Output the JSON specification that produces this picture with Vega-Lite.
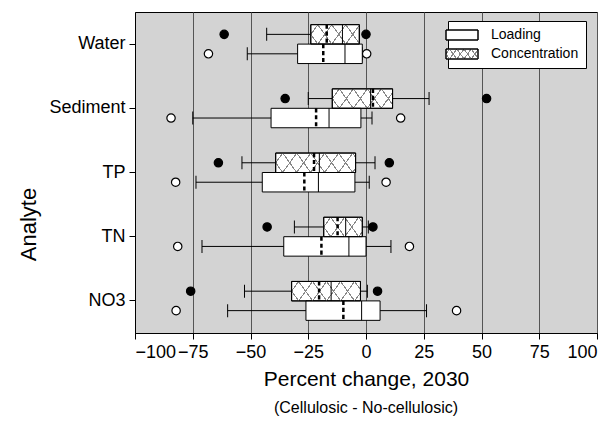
{
  "$schema": "https://vega.github.io/schema/vega-lite/v6.json",
  "width": 462,
  "height": 321,
  "autosize": "none",
  "padding": {"left": 135, "top": 12, "right": 17, "bottom": 89},
  "datasets": {
    "boxes": [
      {"analyte": "Water", "type": "Concentration", "lo": -43, "q1": -23.9, "med": -10.2, "mean": -17, "q3": -2.9, "hi": -2.9},
      {"analyte": "Water", "type": "Loading", "lo": -51.4, "q1": -29.6, "med": -9.1, "mean": -18.5, "q3": -1.6, "hi": -1.6},
      {"analyte": "Sediment", "type": "Concentration", "lo": -25, "q1": -14.6, "med": 2, "mean": 3, "q3": 11.5, "hi": 27.3},
      {"analyte": "Sediment", "type": "Loading", "lo": -75, "q1": -41.1, "med": -16, "mean": -21.6, "q3": -2.2, "hi": 2.6},
      {"analyte": "TP", "type": "Concentration", "lo": -53.7, "q1": -39.1, "med": -20.2, "mean": -22.5, "q3": -4.5, "hi": 3.9},
      {"analyte": "TP", "type": "Loading", "lo": -73.6, "q1": -44.9, "med": -20.6, "mean": -26.7, "q3": -4.8, "hi": 1.4},
      {"analyte": "TN", "type": "Concentration", "lo": -31, "q1": -18.3, "med": -8.8, "mean": -12.3, "q3": -1.6, "hi": 1},
      {"analyte": "TN", "type": "Loading", "lo": -71, "q1": -35.6, "med": -7.4, "mean": -19.3, "q3": 0, "hi": 10.8},
      {"analyte": "NO3", "type": "Concentration", "lo": -52.6, "q1": -32.2, "med": -15.1, "mean": -20.3, "q3": -2.4, "hi": 0.6},
      {"analyte": "NO3", "type": "Loading", "lo": -59.9, "q1": -26, "med": -1.9, "mean": -9.8, "q3": 6.1, "hi": 26.2}
    ],
    "outliers": [
      {"analyte": "Water", "type": "Concentration", "value": -61.4},
      {"analyte": "Water", "type": "Concentration", "value": 0},
      {"analyte": "Water", "type": "Loading", "value": -68.2},
      {"analyte": "Water", "type": "Loading", "value": 0.3},
      {"analyte": "Sediment", "type": "Concentration", "value": -35},
      {"analyte": "Sediment", "type": "Concentration", "value": 52.2},
      {"analyte": "Sediment", "type": "Loading", "value": -84.4},
      {"analyte": "Sediment", "type": "Loading", "value": 15},
      {"analyte": "TP", "type": "Concentration", "value": -63.9},
      {"analyte": "TP", "type": "Concentration", "value": 10.1},
      {"analyte": "TP", "type": "Loading", "value": -82.4},
      {"analyte": "TP", "type": "Loading", "value": 8.7},
      {"analyte": "TN", "type": "Concentration", "value": -42.8},
      {"analyte": "TN", "type": "Concentration", "value": 3},
      {"analyte": "TN", "type": "Loading", "value": -81.5},
      {"analyte": "TN", "type": "Loading", "value": 18.8},
      {"analyte": "NO3", "type": "Concentration", "value": -75.9},
      {"analyte": "NO3", "type": "Concentration", "value": 5},
      {"analyte": "NO3", "type": "Loading", "value": -82.2},
      {"analyte": "NO3", "type": "Loading", "value": 39.2}
    ]
  },
  "data": {"name": "boxes"},
  "title": {"text": "(Cellulosic - No-cellulosic)", "orient": "bottom", "frame": "group", "anchor": "middle", "fontSize": 16, "fontWeight": "normal", "font": "Liberation Sans", "color": "black", "offset": 11},
  "encoding": {
    "y": {"field": "analyte", "type": "nominal", "sort": ["Water", "Sediment", "TP", "TN", "NO3"], "scale": {"paddingInner": 0, "paddingOuter": 0}, "title": "Analyte",
      "axis": {"labelFontSize": 18, "labelPadding": 4, "tickSize": 6, "titleFontSize": 22, "titleAngle": 270, "titleX": -107, "titleY": 212, "titleBaseline": "middle", "titleAlign": "center"}},
    "yOffset": {"field": "type", "type": "nominal", "sort": ["Concentration", "Loading"], "scale": {"domain": ["Concentration", "Loading"], "paddingOuter": 0.65, "paddingInner": 0}}
  },
  "layer": [
    {
      "mark": {"type": "rule", "color": "black", "strokeWidth": 1},
      "encoding": {
        "x": {"field": "lo", "type": "quantitative", "scale": {"domain": [-100, 100], "nice": false, "zero": false}, "title": "Percent change, 2030",
          "axis": {"values": [-100, -75, -50, -25, 0, 25, 50, 75, 100], "grid": true, "gridColor": "#555", "gridWidth": 1, "gridOpacity": 1, "labelFontSize": 18, "labelPadding": 4, "tickSize": 6, "titleFontSize": 21, "titlePadding": 7}},
        "x2": {"field": "hi"}
      }
    },
    {
      "mark": {"type": "tick", "color": "black", "size": 13, "thickness": 1, "opacity": 1},
      "encoding": {"x": {"field": "lo", "type": "quantitative", "title": "Percent change, 2030"}}
    },
    {
      "mark": {"type": "tick", "color": "black", "size": 13, "thickness": 1, "opacity": 1},
      "encoding": {"x": {"field": "hi", "type": "quantitative", "title": "Percent change, 2030"}}
    },
    {
      "mark": {"type": "bar", "stroke": "black", "strokeWidth": 1, "opacity": 1},
      "encoding": {
        "x": {"field": "q1", "type": "quantitative", "title": "Percent change, 2030"},
        "x2": {"field": "q3"},
        "fill": {
          "field": "type", "type": "nominal",
          "scale": {"domain": ["Loading", "Concentration"], "range": ["white",
            {"expr": "{gradient:'linear',x1:0,y1:0,x2:1.1659,y2:0.2622,stops:[{offset:0,color:'#fff'},{offset:0.0753,color:'#fff'},{offset:0.0753,color:'#888'},{offset:0.1083,color:'#888'},{offset:0.1083,color:'#fff'},{offset:0.2588,color:'#fff'},{offset:0.2588,color:'#888'},{offset:0.2918,color:'#888'},{offset:0.2918,color:'#fff'},{offset:0.4424,color:'#fff'},{offset:0.4424,color:'#888'},{offset:0.4754,color:'#888'},{offset:0.4754,color:'#fff'},{offset:0.6259,color:'#fff'},{offset:0.6259,color:'#888'},{offset:0.659,color:'#888'},{offset:0.659,color:'#fff'},{offset:0.8095,color:'#fff'},{offset:0.8095,color:'#888'},{offset:0.8425,color:'#888'},{offset:0.8425,color:'#fff'},{offset:1,color:'#fff'}]}"}
          ]},
          "legend": {"title": null, "orient": "none", "legendX": 313, "legendY": 9, "zindex": 1, "symbolType": "M-3.2,-1H3.2V1H-3.2Z", "symbolSize": 100, "symbolStrokeColor": "black", "symbolStrokeWidth": 1, "labelFontSize": 14, "labelFont": "Liberation Sans", "labelColor": "black", "labelOffset": 22, "padding": 7, "rowPadding": 5, "fillColor": "white", "strokeColor": "black"},
          "condition": [
            {"test": "datum.type === 'Concentration' && datum.analyte === 'Water'", "value":
              {"gradient": "linear", "x1": 0, "y1": 0, "x2": 1.1896, "y2": 0.3432, "stops": [
                {"offset": 0, "color": "#fff"},
                {"offset": 0.1016, "color": "#fff"}, {"offset": 0.1016, "color": "#888"}, {"offset": 0.1223, "color": "#888"}, {"offset": 0.1223, "color": "#fff"},
                {"offset": 0.3254, "color": "#fff"}, {"offset": 0.3254, "color": "#888"}, {"offset": 0.3462, "color": "#888"}, {"offset": 0.3462, "color": "#fff"},
                {"offset": 0.5493, "color": "#fff"}, {"offset": 0.5493, "color": "#888"}, {"offset": 0.57, "color": "#888"}, {"offset": 0.57, "color": "#fff"},
                {"offset": 0.7732, "color": "#fff"}, {"offset": 0.7732, "color": "#888"}, {"offset": 0.7939, "color": "#888"}, {"offset": 0.7939, "color": "#fff"},
                {"offset": 1, "color": "#fff"}]}},
            {"test": "datum.type === 'Concentration' && datum.analyte === 'Sediment'", "value":
              {"gradient": "linear", "x1": 0, "y1": 0, "x2": 1.1691, "y2": 0.2714, "stops": [
                {"offset": 0, "color": "#fff"},
                {"offset": 0.0855, "color": "#fff"}, {"offset": 0.0855, "color": "#888"}, {"offset": 0.1029, "color": "#888"}, {"offset": 0.1029, "color": "#fff"},
                {"offset": 0.2739, "color": "#fff"}, {"offset": 0.2739, "color": "#888"}, {"offset": 0.2913, "color": "#888"}, {"offset": 0.2913, "color": "#fff"},
                {"offset": 0.4622, "color": "#fff"}, {"offset": 0.4622, "color": "#888"}, {"offset": 0.4797, "color": "#888"}, {"offset": 0.4797, "color": "#fff"},
                {"offset": 0.6506, "color": "#fff"}, {"offset": 0.6506, "color": "#888"}, {"offset": 0.668, "color": "#888"}, {"offset": 0.668, "color": "#fff"},
                {"offset": 0.839, "color": "#fff"}, {"offset": 0.839, "color": "#888"}, {"offset": 0.8564, "color": "#888"}, {"offset": 0.8564, "color": "#fff"},
                {"offset": 1, "color": "#fff"}]}},
            {"test": "datum.type === 'Concentration' && datum.analyte === 'TP'", "value":
              {"gradient": "linear", "x1": 0, "y1": 0, "x2": 1.1401, "y2": 0.1996, "stops": [
                {"offset": 0, "color": "#fff"},
                {"offset": 0.0676, "color": "#fff"}, {"offset": 0.0676, "color": "#888"}, {"offset": 0.0814, "color": "#888"}, {"offset": 0.0814, "color": "#fff"},
                {"offset": 0.2166, "color": "#fff"}, {"offset": 0.2166, "color": "#888"}, {"offset": 0.2304, "color": "#888"}, {"offset": 0.2304, "color": "#fff"},
                {"offset": 0.3656, "color": "#fff"}, {"offset": 0.3656, "color": "#888"}, {"offset": 0.3794, "color": "#888"}, {"offset": 0.3794, "color": "#fff"},
                {"offset": 0.5146, "color": "#fff"}, {"offset": 0.5146, "color": "#888"}, {"offset": 0.5283, "color": "#888"}, {"offset": 0.5283, "color": "#fff"},
                {"offset": 0.6635, "color": "#fff"}, {"offset": 0.6635, "color": "#888"}, {"offset": 0.6773, "color": "#888"}, {"offset": 0.6773, "color": "#fff"},
                {"offset": 0.8125, "color": "#fff"}, {"offset": 0.8125, "color": "#888"}, {"offset": 0.8263, "color": "#888"}, {"offset": 0.8263, "color": "#fff"},
                {"offset": 0.9615, "color": "#fff"}, {"offset": 0.9615, "color": "#888"}, {"offset": 0.9753, "color": "#888"}, {"offset": 0.9753, "color": "#fff"},
                {"offset": 1, "color": "#fff"}]}},
            {"test": "datum.type === 'Concentration' && datum.analyte === 'TN'", "value":
              {"gradient": "linear", "x1": 0, "y1": 0, "x2": 1.2041, "y2": 0.4368, "stops": [
                {"offset": 0, "color": "#fff"},
                {"offset": 0.1208, "color": "#fff"}, {"offset": 0.1208, "color": "#888"}, {"offset": 0.1454, "color": "#888"}, {"offset": 0.1454, "color": "#fff"},
                {"offset": 0.387, "color": "#fff"}, {"offset": 0.387, "color": "#888"}, {"offset": 0.4116, "color": "#888"}, {"offset": 0.4116, "color": "#fff"},
                {"offset": 0.6531, "color": "#fff"}, {"offset": 0.6531, "color": "#888"}, {"offset": 0.6778, "color": "#888"}, {"offset": 0.6778, "color": "#fff"},
                {"offset": 0.9193, "color": "#fff"}, {"offset": 0.9193, "color": "#888"}, {"offset": 0.944, "color": "#888"}, {"offset": 0.944, "color": "#fff"},
                {"offset": 1, "color": "#fff"}]}},
            {"test": "datum.type === 'Concentration' && datum.analyte === 'NO3'", "value":
              {"gradient": "linear", "x1": 0, "y1": 0, "x2": 1.1556, "y2": 0.2348, "stops": [
                {"offset": 0, "color": "#fff"},
                {"offset": 0.0767, "color": "#fff"}, {"offset": 0.0767, "color": "#888"}, {"offset": 0.0923, "color": "#888"}, {"offset": 0.0923, "color": "#fff"},
                {"offset": 0.2456, "color": "#fff"}, {"offset": 0.2456, "color": "#888"}, {"offset": 0.2612, "color": "#888"}, {"offset": 0.2612, "color": "#fff"},
                {"offset": 0.4145, "color": "#fff"}, {"offset": 0.4145, "color": "#888"}, {"offset": 0.4302, "color": "#888"}, {"offset": 0.4302, "color": "#fff"},
                {"offset": 0.5835, "color": "#fff"}, {"offset": 0.5835, "color": "#888"}, {"offset": 0.5991, "color": "#888"}, {"offset": 0.5991, "color": "#fff"},
                {"offset": 0.7524, "color": "#fff"}, {"offset": 0.7524, "color": "#888"}, {"offset": 0.768, "color": "#888"}, {"offset": 0.768, "color": "#fff"},
                {"offset": 0.9213, "color": "#fff"}, {"offset": 0.9213, "color": "#888"}, {"offset": 0.937, "color": "#888"}, {"offset": 0.937, "color": "#fff"},
                {"offset": 1, "color": "#fff"}]}}
          ]
        }
      }
    },
    {
      "transform": [{"filter": "datum.type === 'Concentration'"}],
      "mark": {"type": "bar", "stroke": "black", "strokeWidth": 1, "opacity": 1},
      "encoding": {
        "x": {"field": "q1", "type": "quantitative", "title": "Percent change, 2030"},
        "x2": {"field": "q3"},
        "fill": {
          "field": "type", "type": "nominal",
          "scale": {"domain": ["Loading", "Concentration"], "range": ["rgba(255,255,255,0)",
            {"expr": "{gradient:'linear',x1:0,y1:1,x2:1.1659,y2:0.7378,stops:[{offset:0,color:'rgba(255,255,255,0)'},{offset:0.0753,color:'rgba(255,255,255,0)'},{offset:0.0753,color:'#888'},{offset:0.1083,color:'#888'},{offset:0.1083,color:'rgba(255,255,255,0)'},{offset:0.2588,color:'rgba(255,255,255,0)'},{offset:0.2588,color:'#888'},{offset:0.2918,color:'#888'},{offset:0.2918,color:'rgba(255,255,255,0)'},{offset:0.4424,color:'rgba(255,255,255,0)'},{offset:0.4424,color:'#888'},{offset:0.4754,color:'#888'},{offset:0.4754,color:'rgba(255,255,255,0)'},{offset:0.6259,color:'rgba(255,255,255,0)'},{offset:0.6259,color:'#888'},{offset:0.659,color:'#888'},{offset:0.659,color:'rgba(255,255,255,0)'},{offset:0.8095,color:'rgba(255,255,255,0)'},{offset:0.8095,color:'#888'},{offset:0.8425,color:'#888'},{offset:0.8425,color:'rgba(255,255,255,0)'},{offset:1,color:'rgba(255,255,255,0)'}]}"}
          ]},
          "legend": {"title": null, "orient": "none", "legendX": 313, "legendY": 9, "zindex": 2, "symbolType": "M-3.2,-1H3.2V1H-3.2Z", "symbolSize": 100, "symbolStrokeColor": "black", "symbolStrokeWidth": 1, "labelFontSize": 14, "labelFont": "Liberation Sans", "labelColor": "black", "labelOpacity": 0, "labelOffset": 22, "padding": 7, "rowPadding": 5},
          "condition": [
            {"test": "datum.analyte === 'Water'", "value":
              {"gradient": "linear", "x1": 0, "y1": 1, "x2": 1.1896, "y2": 0.6568, "stops": [
                {"offset": 0, "color": "rgba(255,255,255,0)"},
                {"offset": 0.1016, "color": "rgba(255,255,255,0)"}, {"offset": 0.1016, "color": "#888"}, {"offset": 0.1223, "color": "#888"}, {"offset": 0.1223, "color": "rgba(255,255,255,0)"},
                {"offset": 0.3254, "color": "rgba(255,255,255,0)"}, {"offset": 0.3254, "color": "#888"}, {"offset": 0.3462, "color": "#888"}, {"offset": 0.3462, "color": "rgba(255,255,255,0)"},
                {"offset": 0.5493, "color": "rgba(255,255,255,0)"}, {"offset": 0.5493, "color": "#888"}, {"offset": 0.57, "color": "#888"}, {"offset": 0.57, "color": "rgba(255,255,255,0)"},
                {"offset": 0.7732, "color": "rgba(255,255,255,0)"}, {"offset": 0.7732, "color": "#888"}, {"offset": 0.7939, "color": "#888"}, {"offset": 0.7939, "color": "rgba(255,255,255,0)"},
                {"offset": 1, "color": "rgba(255,255,255,0)"}]}},
            {"test": "datum.analyte === 'Sediment'", "value":
              {"gradient": "linear", "x1": 0, "y1": 1, "x2": 1.1691, "y2": 0.7286, "stops": [
                {"offset": 0, "color": "rgba(255,255,255,0)"},
                {"offset": 0.0855, "color": "rgba(255,255,255,0)"}, {"offset": 0.0855, "color": "#888"}, {"offset": 0.1029, "color": "#888"}, {"offset": 0.1029, "color": "rgba(255,255,255,0)"},
                {"offset": 0.2739, "color": "rgba(255,255,255,0)"}, {"offset": 0.2739, "color": "#888"}, {"offset": 0.2913, "color": "#888"}, {"offset": 0.2913, "color": "rgba(255,255,255,0)"},
                {"offset": 0.4622, "color": "rgba(255,255,255,0)"}, {"offset": 0.4622, "color": "#888"}, {"offset": 0.4797, "color": "#888"}, {"offset": 0.4797, "color": "rgba(255,255,255,0)"},
                {"offset": 0.6506, "color": "rgba(255,255,255,0)"}, {"offset": 0.6506, "color": "#888"}, {"offset": 0.668, "color": "#888"}, {"offset": 0.668, "color": "rgba(255,255,255,0)"},
                {"offset": 0.839, "color": "rgba(255,255,255,0)"}, {"offset": 0.839, "color": "#888"}, {"offset": 0.8564, "color": "#888"}, {"offset": 0.8564, "color": "rgba(255,255,255,0)"},
                {"offset": 1, "color": "rgba(255,255,255,0)"}]}},
            {"test": "datum.analyte === 'TP'", "value":
              {"gradient": "linear", "x1": 0, "y1": 1, "x2": 1.1401, "y2": 0.8004, "stops": [
                {"offset": 0, "color": "rgba(255,255,255,0)"},
                {"offset": 0.0676, "color": "rgba(255,255,255,0)"}, {"offset": 0.0676, "color": "#888"}, {"offset": 0.0814, "color": "#888"}, {"offset": 0.0814, "color": "rgba(255,255,255,0)"},
                {"offset": 0.2166, "color": "rgba(255,255,255,0)"}, {"offset": 0.2166, "color": "#888"}, {"offset": 0.2304, "color": "#888"}, {"offset": 0.2304, "color": "rgba(255,255,255,0)"},
                {"offset": 0.3656, "color": "rgba(255,255,255,0)"}, {"offset": 0.3656, "color": "#888"}, {"offset": 0.3794, "color": "#888"}, {"offset": 0.3794, "color": "rgba(255,255,255,0)"},
                {"offset": 0.5146, "color": "rgba(255,255,255,0)"}, {"offset": 0.5146, "color": "#888"}, {"offset": 0.5283, "color": "#888"}, {"offset": 0.5283, "color": "rgba(255,255,255,0)"},
                {"offset": 0.6635, "color": "rgba(255,255,255,0)"}, {"offset": 0.6635, "color": "#888"}, {"offset": 0.6773, "color": "#888"}, {"offset": 0.6773, "color": "rgba(255,255,255,0)"},
                {"offset": 0.8125, "color": "rgba(255,255,255,0)"}, {"offset": 0.8125, "color": "#888"}, {"offset": 0.8263, "color": "#888"}, {"offset": 0.8263, "color": "rgba(255,255,255,0)"},
                {"offset": 0.9615, "color": "rgba(255,255,255,0)"}, {"offset": 0.9615, "color": "#888"}, {"offset": 0.9753, "color": "#888"}, {"offset": 0.9753, "color": "rgba(255,255,255,0)"},
                {"offset": 1, "color": "rgba(255,255,255,0)"}]}},
            {"test": "datum.analyte === 'TN'", "value":
              {"gradient": "linear", "x1": 0, "y1": 1, "x2": 1.2041, "y2": 0.5632, "stops": [
                {"offset": 0, "color": "rgba(255,255,255,0)"},
                {"offset": 0.1208, "color": "rgba(255,255,255,0)"}, {"offset": 0.1208, "color": "#888"}, {"offset": 0.1454, "color": "#888"}, {"offset": 0.1454, "color": "rgba(255,255,255,0)"},
                {"offset": 0.387, "color": "rgba(255,255,255,0)"}, {"offset": 0.387, "color": "#888"}, {"offset": 0.4116, "color": "#888"}, {"offset": 0.4116, "color": "rgba(255,255,255,0)"},
                {"offset": 0.6531, "color": "rgba(255,255,255,0)"}, {"offset": 0.6531, "color": "#888"}, {"offset": 0.6778, "color": "#888"}, {"offset": 0.6778, "color": "rgba(255,255,255,0)"},
                {"offset": 0.9193, "color": "rgba(255,255,255,0)"}, {"offset": 0.9193, "color": "#888"}, {"offset": 0.944, "color": "#888"}, {"offset": 0.944, "color": "rgba(255,255,255,0)"},
                {"offset": 1, "color": "rgba(255,255,255,0)"}]}},
            {"test": "datum.analyte === 'NO3'", "value":
              {"gradient": "linear", "x1": 0, "y1": 1, "x2": 1.1556, "y2": 0.7652, "stops": [
                {"offset": 0, "color": "rgba(255,255,255,0)"},
                {"offset": 0.0767, "color": "rgba(255,255,255,0)"}, {"offset": 0.0767, "color": "#888"}, {"offset": 0.0923, "color": "#888"}, {"offset": 0.0923, "color": "rgba(255,255,255,0)"},
                {"offset": 0.2456, "color": "rgba(255,255,255,0)"}, {"offset": 0.2456, "color": "#888"}, {"offset": 0.2612, "color": "#888"}, {"offset": 0.2612, "color": "rgba(255,255,255,0)"},
                {"offset": 0.4145, "color": "rgba(255,255,255,0)"}, {"offset": 0.4145, "color": "#888"}, {"offset": 0.4302, "color": "#888"}, {"offset": 0.4302, "color": "rgba(255,255,255,0)"},
                {"offset": 0.5835, "color": "rgba(255,255,255,0)"}, {"offset": 0.5835, "color": "#888"}, {"offset": 0.5991, "color": "#888"}, {"offset": 0.5991, "color": "rgba(255,255,255,0)"},
                {"offset": 0.7524, "color": "rgba(255,255,255,0)"}, {"offset": 0.7524, "color": "#888"}, {"offset": 0.768, "color": "#888"}, {"offset": 0.768, "color": "rgba(255,255,255,0)"},
                {"offset": 0.9213, "color": "rgba(255,255,255,0)"}, {"offset": 0.9213, "color": "#888"}, {"offset": 0.937, "color": "#888"}, {"offset": 0.937, "color": "rgba(255,255,255,0)"},
                {"offset": 1, "color": "rgba(255,255,255,0)"}]}}
          ]
        }
      }
    },
    {
      "mark": {"type": "tick", "color": "black", "size": 19.45, "thickness": 1, "opacity": 1},
      "encoding": {"x": {"field": "med", "type": "quantitative", "title": "Percent change, 2030"}}
    },
    {
      "mark": {"type": "tick", "filled": false, "stroke": "black", "fill": "transparent", "strokeWidth": 2.5, "strokeDash": [4.1, 2.86], "size": 19.45, "thickness": 0, "opacity": 1},
      "encoding": {"x": {"field": "mean", "type": "quantitative", "title": "Percent change, 2030"}}
    },
    {
      "data": {"name": "outliers"},
      "mark": {"type": "point", "shape": "circle", "filled": true, "size": 70, "stroke": "black", "strokeWidth": 1.2, "opacity": 1},
      "encoding": {
        "x": {"field": "value", "type": "quantitative", "title": "Percent change, 2030"},
        "fill": {"condition": {"test": "datum.type === 'Concentration'", "value": "black"}, "value": "white"}
      }
    }
  ],
  "resolve": {"scale": {"fill": "independent"}, "legend": {"fill": "independent"}},
  "config": {
    "font": "Liberation Sans",
    "view": {"fill": "#d3d3d3", "stroke": "black", "strokeWidth": 1},
    "axis": {"labelFont": "Liberation Sans", "titleFont": "Liberation Sans", "labelColor": "black", "titleColor": "black", "tickColor": "black", "domainColor": "black", "titleFontWeight": "normal", "tickWidth": 1, "domainWidth": 1},
    "axisY": {"grid": false}
  }
}
